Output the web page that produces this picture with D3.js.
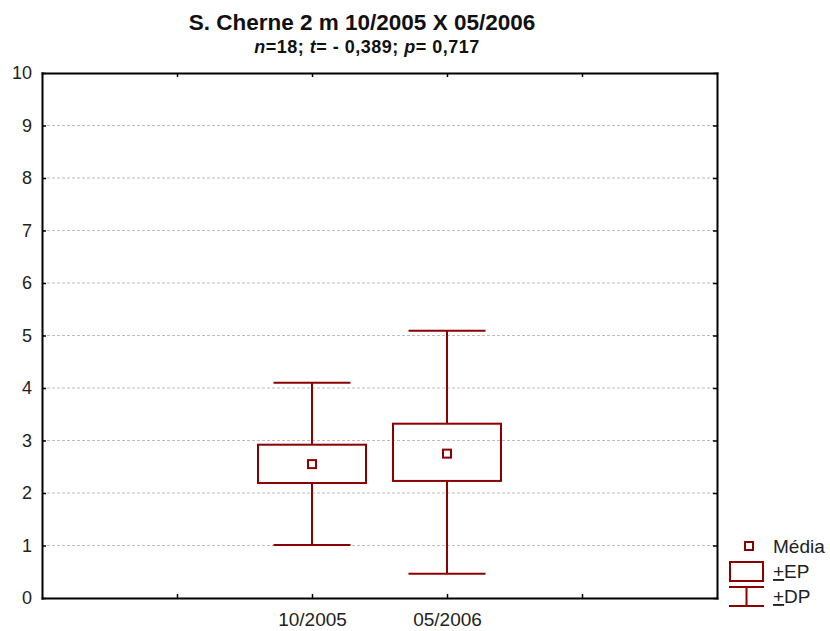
<!DOCTYPE html>
<html>
<head>
<meta charset="utf-8">
<script src="https://cdn.jsdelivr.net/npm/d3@7"></script>
<style>
body { margin: 0; background: #fff; }
svg { font-family: Arial, "Liberation Sans", sans-serif; }
</style>
</head>
<body>
<div id="chart"></div>
<script>
// values
var categories = ["10/2005", "05/2006"];
var catPos = [2, 3];
var media = [2.55, 2.75];
var epLow = [2.19, 2.23];
var epHigh = [2.92, 3.32];
var dpLow = [1.01, 0.46];
var dpHigh = [4.10, 5.09];
var yTicks = [0, 1, 2, 3, 4, 5, 6, 7, 8, 9, 10];
var xTicks = [1, 2, 3, 4];

var width = 830, height = 631;
var margin = {top: 73, right: 113, bottom: 33, left: 42};
var red = "#8b0000";

data = categories.map((c, i) => ({name: c, pos: catPos[i], mean: media[i],
  epLow: epLow[i], epHigh: epHigh[i], dpLow: dpLow[i], dpHigh: dpHigh[i]}));

var svg = d3.select("#chart").append("svg")
  .attr("width", width)
  .attr("height", height);

x = d3.scaleLinear()
  .domain([0, 5])
  .range([margin.left, width - margin.right]);

y = d3.scaleLinear()
  .domain([0, 10])
  .range([height - margin.bottom, margin.top]);

// grid
svg.append("g")
  .selectAll("line")
  .data(yTicks.filter(d => d > 0 && d < 10))
  .enter().append("line")
  .attr("x1", x(0)).attr("x2", x(5))
  .attr("y1", d => y(d)).attr("y2", d => y(d))
  .attr("stroke", "#bdbdbd")
  .attr("stroke-dasharray", "3,2");

// frame + axes
function styleAxis(size) {
  return function(g) {
    g.select(".domain").attr("stroke", "#000").attr("stroke-width", 2);
    g.selectAll(".tick line").attr("stroke", "#000").attr("stroke-width", 1.5);
    g.selectAll("text").attr("fill", "#222").style("font-size", size);
  };
}

svg.append("g")
  .attr("transform", `translate(${x(0)},0)`)
  .call(d3.axisLeft(y).tickValues(yTicks).tickSize(-4).tickSizeOuter(0).tickPadding(10))
  .call(styleAxis("18px"));

svg.append("g")
  .attr("transform", `translate(${x(5)},0)`)
  .call(d3.axisRight(y).tickValues(yTicks).tickSize(-4).tickSizeOuter(0).tickFormat(""))
  .call(styleAxis("18px"));

svg.append("g")
  .attr("transform", `translate(0,${y(0)})`)
  .call(d3.axisBottom(x).tickValues(xTicks).tickSize(-4).tickSizeOuter(0).tickPadding(15)
    .tickFormat(d => { var i = catPos.indexOf(d); return i < 0 ? "" : categories[i]; }))
  .call(styleAxis("19px"));

svg.append("g")
  .attr("transform", `translate(0,${y(10)})`)
  .call(d3.axisTop(x).tickValues(xTicks).tickSize(-4).tickSizeOuter(0).tickFormat(""))
  .call(styleAxis("18px"));

svg.selectAll(".domain").attr("stroke-linecap", "square");

// boxes
var boxHalf = 54, capHalf = 38.5;
var g = svg.append("g")
  .attr("stroke", red)
  .attr("stroke-width", 2)
  .attr("fill", "none");

var item = g.selectAll("g").data(data).enter().append("g");

item.append("line")
  .attr("x1", d => x(d.pos)).attr("x2", d => x(d.pos))
  .attr("y1", d => y(d.dpHigh)).attr("y2", d => y(d.epHigh));
item.append("line")
  .attr("x1", d => x(d.pos)).attr("x2", d => x(d.pos))
  .attr("y1", d => y(d.epLow)).attr("y2", d => y(d.dpLow));
item.append("line")
  .attr("x1", d => x(d.pos) - capHalf).attr("x2", d => x(d.pos) + capHalf)
  .attr("y1", d => y(d.dpHigh)).attr("y2", d => y(d.dpHigh));
item.append("line")
  .attr("x1", d => x(d.pos) - capHalf).attr("x2", d => x(d.pos) + capHalf)
  .attr("y1", d => y(d.dpLow)).attr("y2", d => y(d.dpLow));
item.append("rect")
  .attr("x", d => x(d.pos) - boxHalf)
  .attr("y", d => y(d.epHigh))
  .attr("width", boxHalf * 2)
  .attr("height", d => y(d.epLow) - y(d.epHigh));
item.append("rect")
  .attr("x", d => x(d.pos) - 4)
  .attr("y", d => y(d.mean) - 4)
  .attr("width", 8)
  .attr("height", 8)
  .attr("fill", "#fff");

// title
svg.append("text")
  .attr("x", 362).attr("y", 30)
  .attr("text-anchor", "middle")
  .attr("fill", "#111")
  .style("font-size", "22.5px").style("font-weight", "bold")
  .text("S. Cherne 2 m 10/2005 X 05/2006");

var sub = svg.append("text")
  .attr("x", 367).attr("y", 53)
  .attr("text-anchor", "middle")
  .attr("fill", "#111")
  .style("font-size", "18px").style("font-weight", "bold")
  .style("letter-spacing", "0.5px");
sub.append("tspan").style("font-style", "italic").text("n");
sub.append("tspan").text("=18; ");
sub.append("tspan").style("font-style", "italic").text("t");
sub.append("tspan").text("= - 0,389; ");
sub.append("tspan").style("font-style", "italic").text("p");
sub.append("tspan").text("= 0,717");

// legend
var lg = svg.append("g").attr("stroke", red).attr("stroke-width", 2).attr("fill", "none");
lg.append("rect").attr("x", 745).attr("y", 542).attr("width", 8).attr("height", 8).attr("fill", "#fff");
lg.append("rect").attr("x", 730).attr("y", 562).attr("width", 33).attr("height", 19);
lg.append("line").attr("x1", 729).attr("x2", 764).attr("y1", 587).attr("y2", 587);
lg.append("line").attr("x1", 746.5).attr("x2", 746.5).attr("y1", 587).attr("y2", 606);
lg.append("line").attr("x1", 729).attr("x2", 764).attr("y1", 606).attr("y2", 606);

var legendText = [["", "Média", 553], ["+", "EP", 578], ["+", "DP", 603]];
legendText.forEach(function(t) {
  var tx = svg.append("text").attr("x", 773).attr("y", t[2])
    .style("font-size", "19px").attr("fill", "#222");
  if (t[0]) tx.append("tspan").style("text-decoration", "underline").text(t[0]);
  tx.append("tspan").text(t[1]);
});
</script>
</body>
</html>
